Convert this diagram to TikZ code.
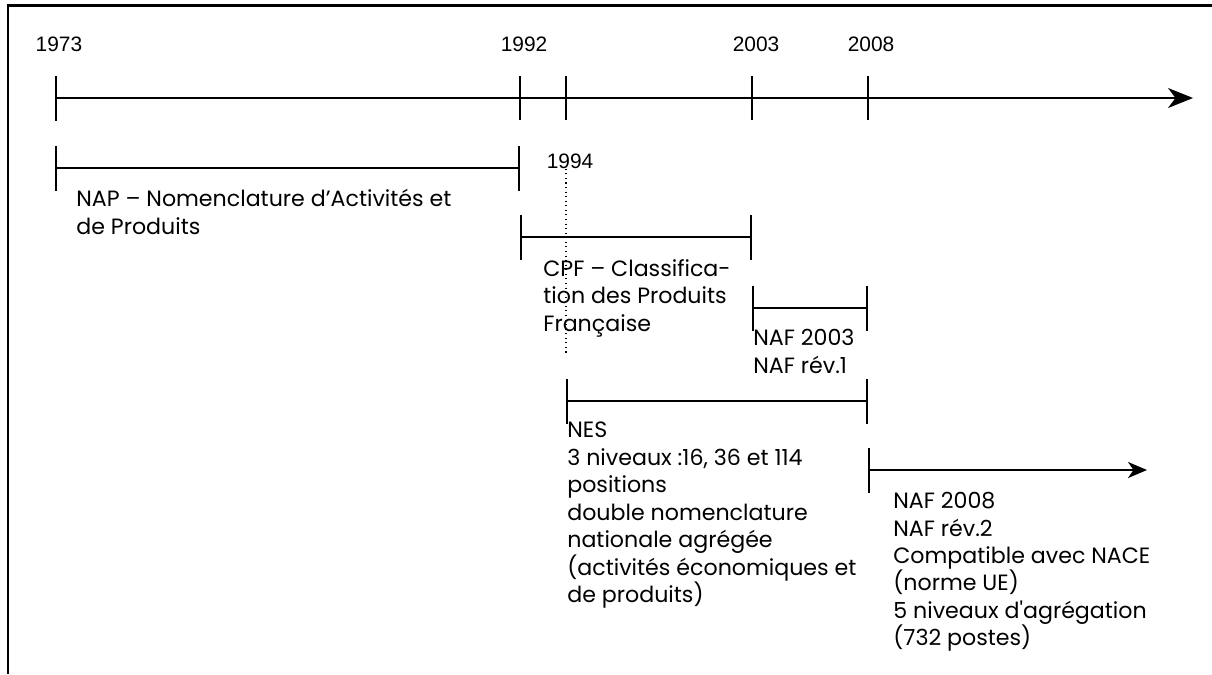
\documentclass[tikz,border=0pt]{standalone}
\usepackage{fontspec}
\usepackage{tikz}
\usetikzlibrary{arrows.meta,calc,positioning}
\newfontfamily\textfnt{Poppins}
\newfontfamily\yearfnt{Liberation Sans}
\tikzstyle{frameline}=[line width=1.7pt]
\tikzstyle{axis}=[line width=1.1pt]
\tikzstyle{period}=[line width=1.1pt, {Bar[width=0.9cm]}-{Bar[width=0.9cm]}]
\tikzstyle{year}=[inner sep=0pt, font={\yearfnt\fontsize{11.9}{14}\selectfont}]
\tikzstyle{legend}=[inner sep=0pt, anchor=north west, align=left, execute at begin node=\strut, font={\textfnt\fontsize{12.6}{15.6}\selectfont}]

\begin{document}
\begin{tikzpicture}[x=0.02cm, y=-0.02cm]
    \useasboundingbox (0,0) rectangle (1212,674);
    % frame (top and left only)
    \coordinate (fl) at (8,674);
    \coordinate (fc) at (8,5);
    \coordinate (fr) at (1212,5);
    \draw[frameline] (fl) -- (fc) -- (fr);

    % Place the dates on the main axis
    \coordinate (a1973) at (55,98);
    \coordinate (a1992) at (520,98);
    \coordinate (a1994) at (566,98);
    \coordinate (a2003) at (752,98);
    \coordinate (a2008) at (868,98);
    \coordinate (aend) at (1193,98);
    \draw[axis, {Bar[width=0.9cm]}-{Stealth[length=0.5cm, width=0.4cm, inset=0.15cm]}] (a1973) -- (aend);
    \foreach \t in {a1992, a1994, a2003, a2008}
      \draw[axis] (\t) +(0,-22) -- +(0,22);

    \node[year] (l1973) at (59,44) {1973};
    \node[year] (l1992) at (524,44) {1992};
    \node[year] (l2003) at (756,44) {2003};
    \node[year] (l2008) at (871,44) {2008};
    \node[year] (l1994) at (570,161) {1994};
    \coordinate (d1994) at (566,355);
    \draw[dotted, line width=0.6pt] (l1994.south -| a1994) -- (d1994);

    % Periods of each nomenclature
    \coordinate (nap1) at (55,168);
    \coordinate (nap2) at (520,168);
    \coordinate (cpf1) at (520,237);
    \coordinate (cpf2) at (752,237);
    \coordinate (naf1) at (752,308);
    \coordinate (naf2) at (868,308);
    \coordinate (nes1) at (566,401);
    \coordinate (nes2) at (868,401);
    \coordinate (new1) at (868,470);
    \coordinate (new2) at (1147,470);

    \draw[period] (nap1) -- (nap2);
    \draw[period] (cpf1) -- (cpf2);
    \draw[period] (naf1) -- (naf2);
    \draw[period] (nes1) -- (nes2);
    \draw[axis, {Bar[width=0.9cm]}-{Stealth[length=0.38cm, width=0.32cm, inset=0.11cm]}] (new1) -- (new2);

     % texts: first baseline about 19 units under the node's top
     \node[legend] (tnap) at (76,189) {NAP – Nomenclature d’Activités et\\de Produits};
     \node[legend] (tcpf) at (543,259) {CPF – Classifica-\\tion des Produits\\Française};
     \node[legend] (tnaf) at (753,329) {NAF 2003\\NAF rév.1};
     \node[legend] (tnes) at (567,422) {NES\\3 niveaux :16, 36 et 114\\positions\\double nomenclature\\nationale agrégée\\(activités économiques et\\de produits)};
     \node[legend] (tnew) at (893,492) {NAF 2008\\NAF rév.2\\Compatible avec NACE\\(norme UE)\\5 niveaux d'agrégation\\(732 postes)};
\end{tikzpicture}
\end{document}
